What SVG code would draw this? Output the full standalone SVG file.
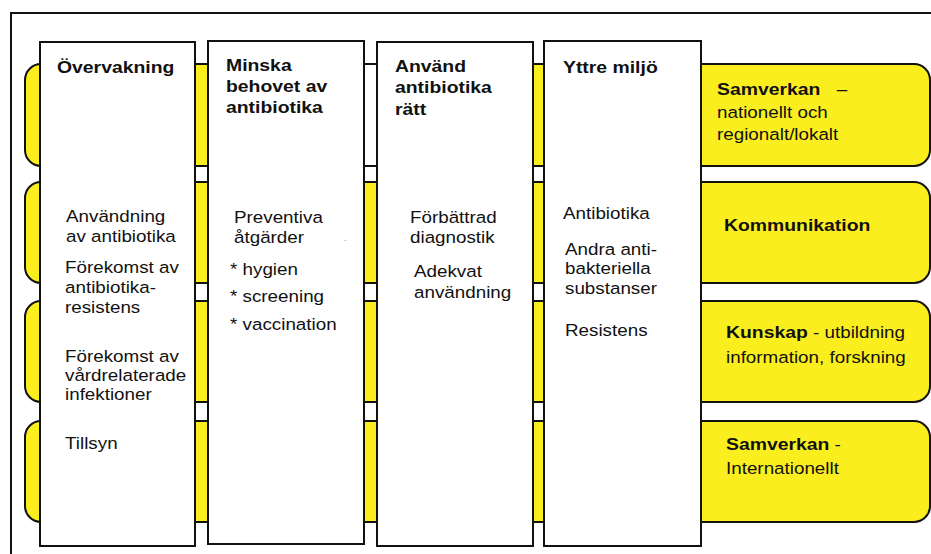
<svg xmlns="http://www.w3.org/2000/svg" width="931" height="554" viewBox="0 0 931 554">
<style>
.band{fill:#FBEE1E;stroke:#111;stroke-width:2}
.col{fill:#fff;stroke:#111;stroke-width:2}
text{font-family:"Liberation Sans",Arial,sans-serif;fill:#111;font-size:16.5px}
.h{font-weight:bold;font-size:17px}
</style>
<rect width="931" height="554" fill="#fff"/>
<path d="M11,554 V13 H931" fill="none" stroke="#111" stroke-width="2"/>
<g id="bands">
<rect class="band" x="25" y="64" width="905" height="102" rx="16"/>
<rect class="band" x="25" y="182" width="905" height="101" rx="16"/>
<rect class="band" x="25" y="301" width="905" height="101" rx="16"/>
<rect class="band" x="25" y="421" width="905" height="101" rx="16"/>
<rect x="365" y="65" width="12" height="100" fill="#fff"/>
</g>
<g id="col-overvakning">
<rect class="col" x="40" y="42" width="155" height="504"/>
<text class="h" transform="translate(57,73) scale(1.14,1)">Övervakning</text>
<text transform="translate(66,222) scale(1.14,1)">Användning</text>
<text transform="translate(66,242) scale(1.14,1)">av antibiotika</text>
<text transform="translate(65,273) scale(1.14,1)">Förekomst av</text>
<text transform="translate(65,293) scale(1.14,1)">antibiotika-</text>
<text transform="translate(65,313) scale(1.14,1)">resistens</text>
<text transform="translate(65,362) scale(1.14,1)">Förekomst av</text>
<text transform="translate(65,381) scale(1.14,1)">vårdrelaterade</text>
<text transform="translate(65,400) scale(1.14,1)">infektioner</text>
<text transform="translate(65,449) scale(1.14,1)">Tillsyn</text>
</g>
<g id="col-minska">
<rect class="col" x="208" y="41" width="156" height="503"/>
<text class="h" transform="translate(226,71) scale(1.14,1)">Minska</text>
<text class="h" transform="translate(226,92) scale(1.14,1)">behovet av</text>
<text class="h" transform="translate(226,113) scale(1.14,1)">antibiotika</text>
<text transform="translate(234,223) scale(1.14,1)">Preventiva</text>
<text transform="translate(234,243) scale(1.14,1)">åtgärder</text>
<text transform="translate(344,241)" style="font-size:9px;fill:#888">.</text>
<text transform="translate(230,275) scale(1.14,1)">* hygien</text>
<text transform="translate(230,302) scale(1.14,1)">* screening</text>
<text transform="translate(230,330) scale(1.14,1)">* vaccination</text>
</g>
<g id="col-anvand">
<rect class="col" x="377" y="42" width="156" height="504"/>
<text class="h" transform="translate(395,72) scale(1.14,1)">Använd</text>
<text class="h" transform="translate(395,93) scale(1.14,1)">antibiotika</text>
<text class="h" transform="translate(395,115) scale(1.14,1)">rätt</text>
<text transform="translate(410,223) scale(1.14,1)">Förbättrad</text>
<text transform="translate(410,243) scale(1.14,1)">diagnostik</text>
<text transform="translate(414,277) scale(1.14,1)">Adekvat</text>
<text transform="translate(414,298) scale(1.14,1)">användning</text>
</g>
<g id="col-yttre">
<rect class="col" x="544" y="41" width="157" height="505"/>
<text class="h" transform="translate(563,73) scale(1.14,1)">Yttre miljö</text>
<text transform="translate(563,219) scale(1.14,1)">Antibiotika</text>
<text transform="translate(565,255) scale(1.14,1)">Andra anti-</text>
<text transform="translate(565,274) scale(1.14,1)">bakteriella</text>
<text transform="translate(565,294) scale(1.14,1)">substanser</text>
<text transform="translate(565,336) scale(1.14,1)">Resistens</text>
</g>
<g id="box-samverkan-nationellt">
<text transform="translate(717,95) scale(1.14,1)"><tspan class="h">Samverkan</tspan><tspan x="105">–</tspan></text>
<text transform="translate(717,118) scale(1.14,1)">nationellt och</text>
<text transform="translate(717,140) scale(1.14,1)">regionalt/lokalt</text>
</g>
<g id="box-kommunikation">
<text class="h" transform="translate(724,231) scale(1.14,1)">Kommunikation</text>
</g>
<g id="box-kunskap">
<text transform="translate(726,338) scale(1.14,1)"><tspan class="h">Kunskap</tspan><tspan> - utbildning</tspan></text>
<text transform="translate(726,363) scale(1.14,1)">information, forskning</text>
</g>
<g id="box-samverkan-internationellt">
<text transform="translate(726,450) scale(1.14,1)"><tspan class="h">Samverkan</tspan><tspan> -</tspan></text>
<text transform="translate(726,474) scale(1.14,1)">Internationellt</text>
</g>
<g id="connectors"></g>
</svg>
